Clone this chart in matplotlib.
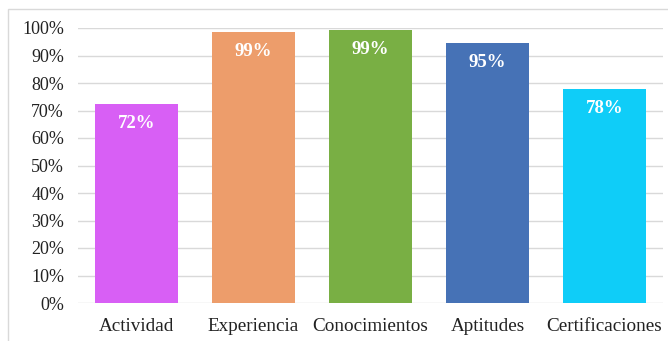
import matplotlib.pyplot as plt
from matplotlib.patches import Rectangle
from matplotlib.ticker import FuncFormatter

categorias = ['Actividad', 'Experiencia', 'Conocimientos', 'Aptitudes', 'Certificaciones']
porcentajes = [72.4, 98.6, 99.3, 94.6, 77.8]
colores = ['#D85FF5', '#ED9D6B', '#79AF44', '#4672B6', '#0FCDF8']

plt.rcParams['font.family'] = 'Liberation Serif'

fig = plt.figure(figsize=(6.68, 3.41), dpi=100)
ax = fig.add_axes([78/668, 1-303/341, (663-78)/668, (303-28)/341])

x = range(len(categorias))
bars = ax.bar(x, porcentajes, width=0.71, color=colores, zorder=2)

for b, v in zip(bars, porcentajes):
    ax.annotate('%d%%' % round(v), (b.get_x() + b.get_width()/2, v),
                xytext=(0, -14), textcoords='offset points',
                ha='center', va='center', color='white',
                fontsize=13.5, fontweight='bold')

ax.set_xlim(-0.5, len(categorias) - 0.5)
ax.set_ylim(0, 100)
ax.set_yticks(range(0, 101, 10))
ax.yaxis.set_major_formatter(FuncFormatter(lambda v, p: '%d%%' % v))
ax.set_xticks(list(x))
ax.set_xticklabels(categorias)
ax.tick_params(axis='both', length=0, colors='#222222')
ax.tick_params(axis='x', labelsize=13.8, pad=11)
ax.tick_params(axis='y', labelsize=13, pad=10)
ax.grid(axis='y', color='#D9D9D9', linewidth=1, zorder=0)
for s in ax.spines.values():
    s.set_visible(False)

# frame around the chart, only top and left edges fall inside the canvas
fig.patches.append(Rectangle((8/668, -0.05), 1.0, 332/341 + 0.05, transform=fig.transFigure,
                             fill=False, edgecolor='#D9D9D9', linewidth=1))

plt.savefig('out.png', dpi=100)
